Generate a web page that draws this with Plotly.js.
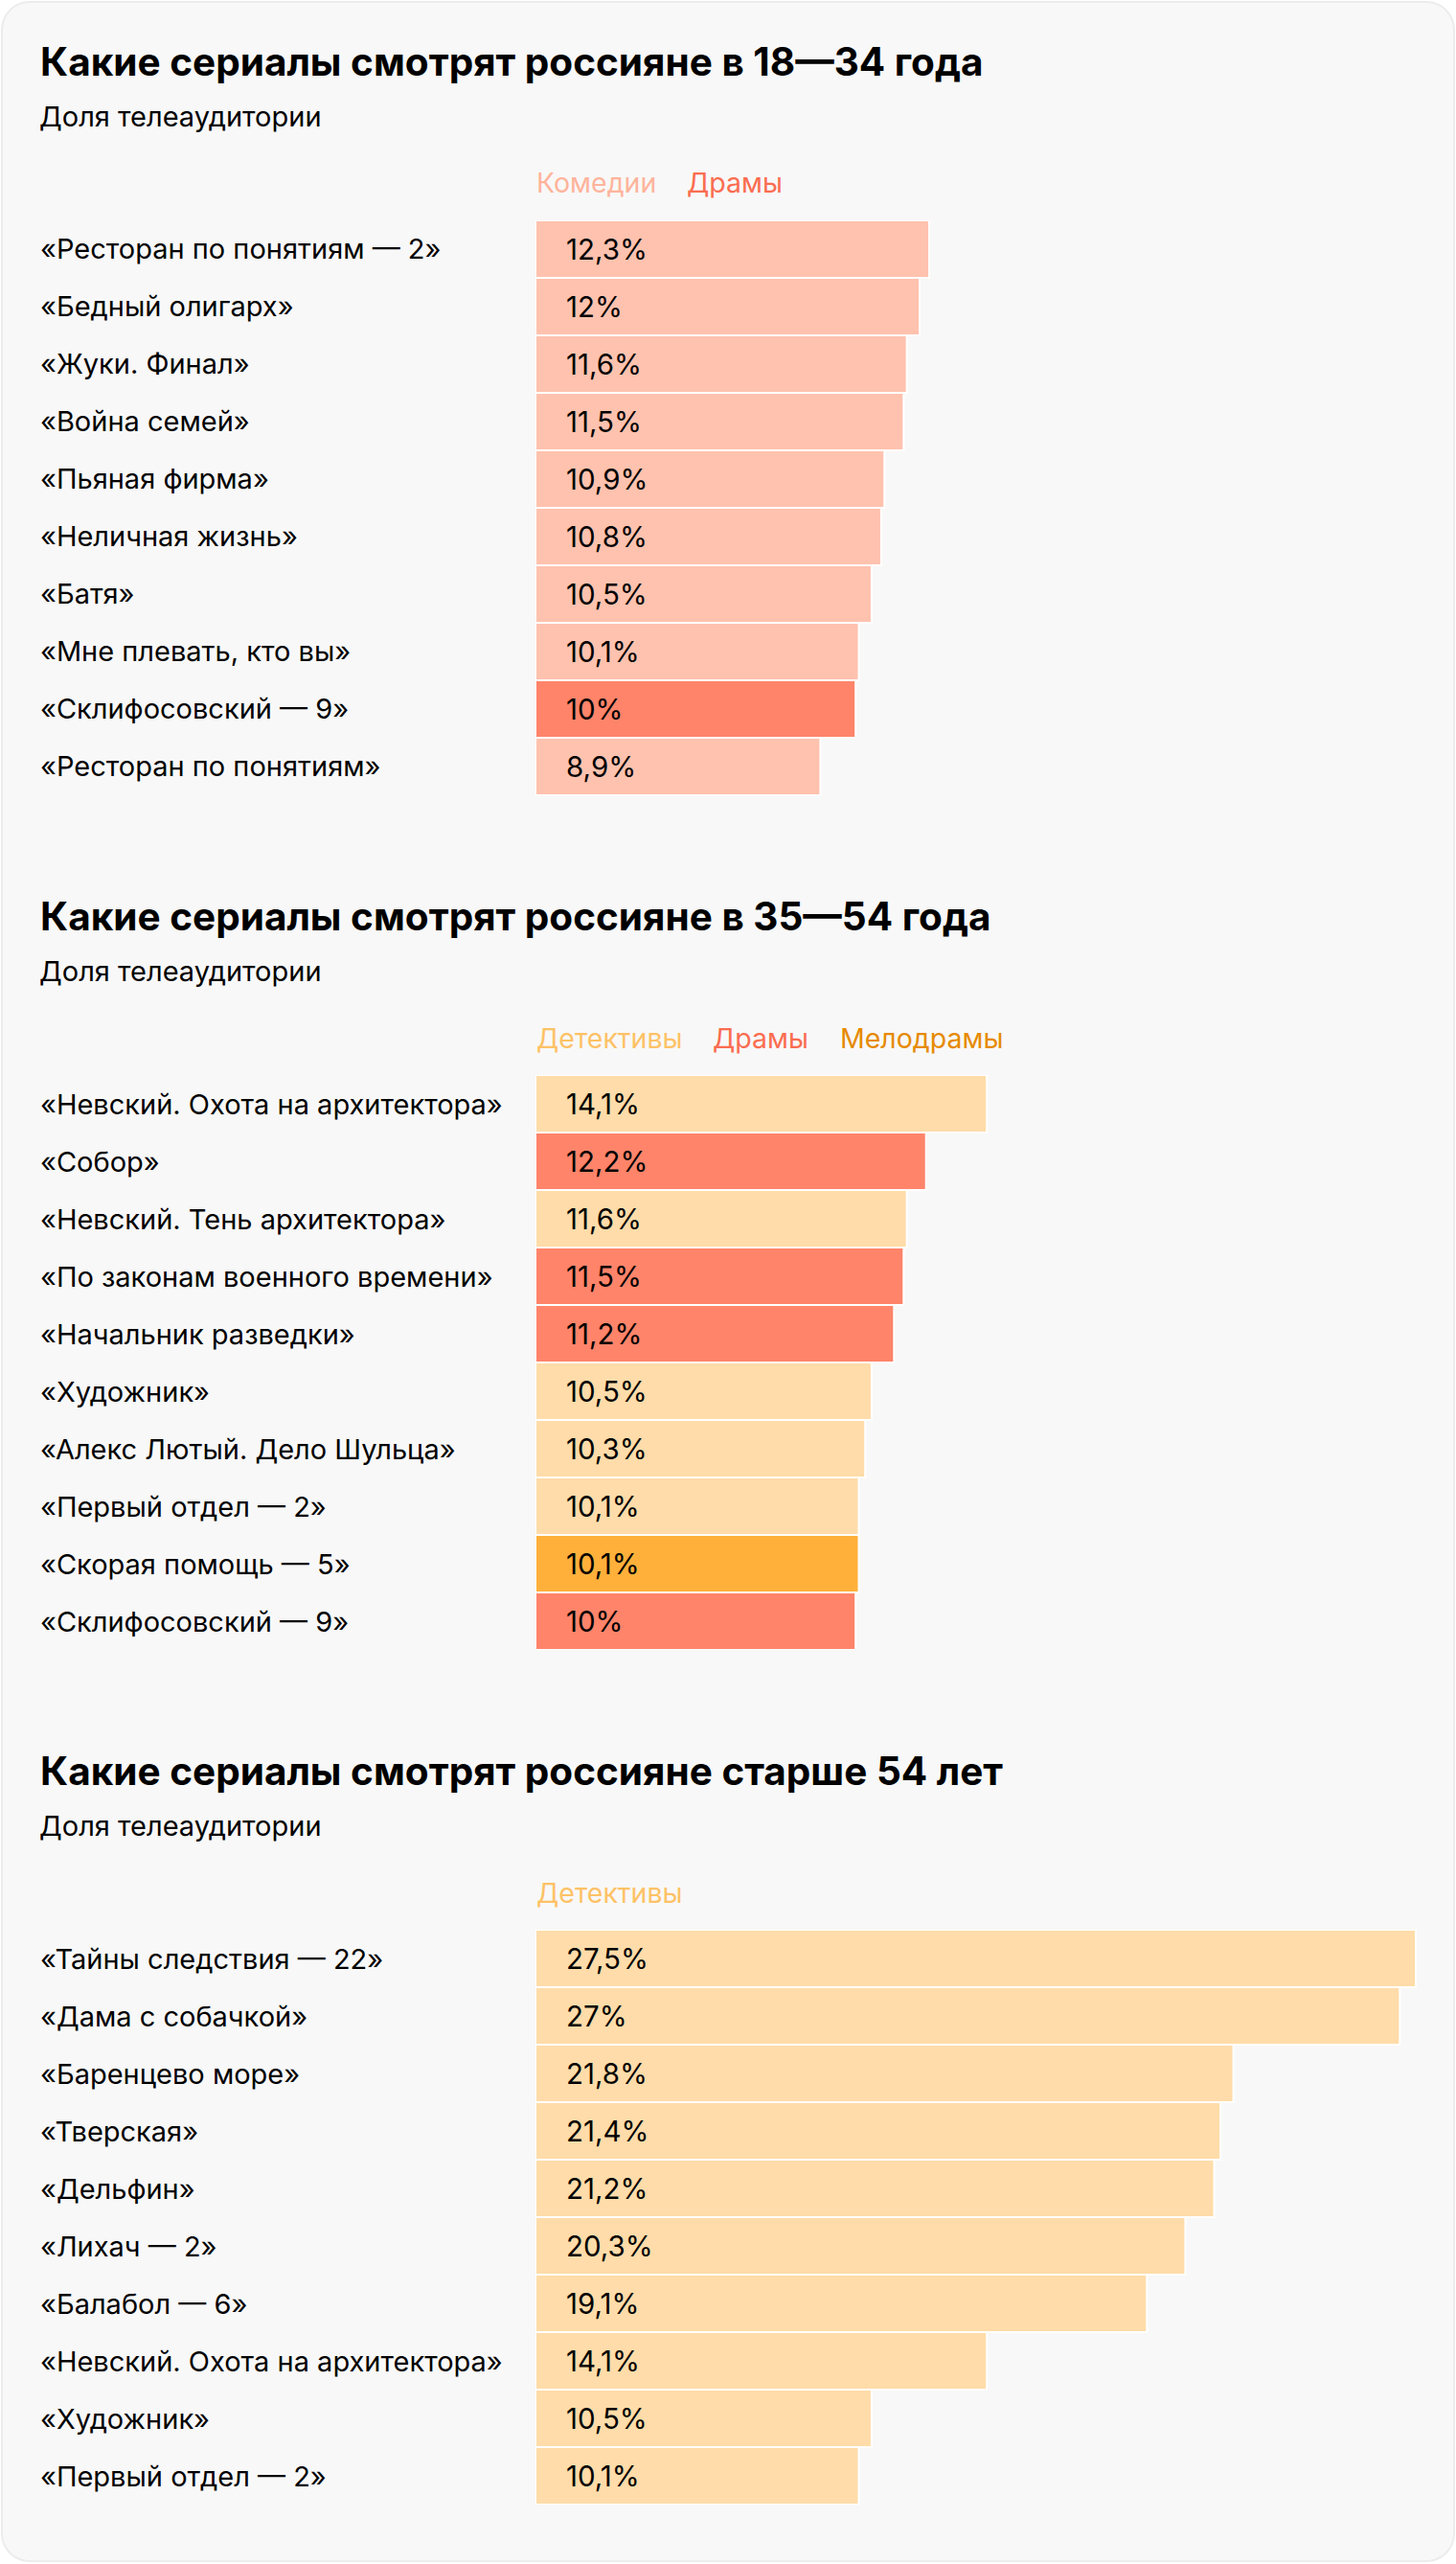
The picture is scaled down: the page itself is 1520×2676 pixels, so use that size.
<!DOCTYPE html>
<html>
<head>
<meta charset="utf-8">
<script src="https://cdn.plot.ly/plotly-3.0.1.min.js"></script>
<style>
  html, body { margin: 0; padding: 0; background: #ffffff; }
  #wrap { position: relative; width: 1520px; height: 2676px; }
  #card { position: absolute; left: 1px; top: 1px; right: 1px; bottom: 2px;
          background: #f8f8f8; border: 2px solid #ececec; border-radius: 30px; box-sizing: border-box; }
  #chart { position: absolute; left: 0; top: 0; width: 1520px; height: 2676px; }
</style>
</head>
<body>
<div id="wrap"><div id="card"></div><div id="chart"></div></div>
<script>
// ---------- DATA ----------
const chartTitles = [
  'Какие сериалы смотрят россияне в 18—34 года',
  'Какие сериалы смотрят россияне в 35—54 года',
  'Какие сериалы смотрят россияне старше 54 лет'
];
const subtitle = 'Доля телеаудитории';

const shows1 = ['«Ресторан по понятиям — 2»', '«Бедный олигарх»', '«Жуки. Финал»', '«Война семей»',
  '«Пьяная фирма»', '«Неличная жизнь»', '«Батя»', '«Мне плевать, кто вы»', '«Склифосовский — 9»',
  '«Ресторан по понятиям»'];
const values1 = [12.3, 12, 11.6, 11.5, 10.9, 10.8, 10.5, 10.1, 10, 8.9];
const genres1 = ['Комедии', 'Комедии', 'Комедии', 'Комедии', 'Комедии', 'Комедии', 'Комедии',
  'Комедии', 'Драмы', 'Комедии'];
const legend1 = ['Комедии', 'Драмы'];

const shows2 = ['«Невский. Охота на архитектора»', '«Собор»', '«Невский. Тень архитектора»',
  '«По законам военного времени»', '«Начальник разведки»', '«Художник»', '«Алекс Лютый. Дело Шульца»',
  '«Первый отдел — 2»', '«Скорая помощь — 5»', '«Склифосовский — 9»'];
const values2 = [14.1, 12.2, 11.6, 11.5, 11.2, 10.5, 10.3, 10.1, 10.1, 10];
const genres2 = ['Детективы', 'Драмы', 'Детективы', 'Драмы', 'Драмы', 'Детективы', 'Детективы',
  'Детективы', 'Мелодрамы', 'Драмы'];
const legend2 = ['Детективы', 'Драмы', 'Мелодрамы'];

const shows3 = ['«Тайны следствия — 22»', '«Дама с собачкой»', '«Баренцево море»', '«Тверская»',
  '«Дельфин»', '«Лихач — 2»', '«Балабол — 6»', '«Невский. Охота на архитектора»', '«Художник»',
  '«Первый отдел — 2»'];
const values3 = [27.5, 27, 21.8, 21.4, 21.2, 20.3, 19.1, 14.1, 10.5, 10.1];
const genres3 = ['Детективы', 'Детективы', 'Детективы', 'Детективы', 'Детективы', 'Детективы',
  'Детективы', 'Детективы', 'Детективы', 'Детективы'];
const legend3 = ['Детективы'];

// ---------- STYLE ----------
const barColor = { 'Комедии': '#ffc2ae', 'Драмы': '#ff846a', 'Детективы': '#ffdca9', 'Мелодрамы': '#ffb03b' };
const legendColor = { 'Комедии': '#ffb49c', 'Драмы': '#fb6d50', 'Детективы': '#fec266', 'Мелодрамы': '#e68a00' };

const W = 1520, H = 2676;
const FONT = 'Inter, Roboto, "Noto Sans", sans-serif';
const TXT = 29;
const blockH = 892;
const barsTop = 230;
const rowH = 60;
const xStartPx = 559, pxPerUnit = 33.42;
const xDomEndPx = 1519;
const xMax = (xDomEndPx - xStartPx) / pxPerUnit;

const charts = [
  { shows: shows1, values: values1, genres: genres1, legend: legend1 },
  { shows: shows2, values: values2, genres: genres2, legend: legend2 },
  { shows: shows3, values: values3, genres: genres3, legend: legend3 }
];

const py = px => 1 - px / H;
const px2x = px => px / W;

const ctx = document.createElement('canvas').getContext('2d');
function textW(t, size, weight) {
  ctx.font = (weight || 'normal') + ' ' + size + 'px Inter';
  return ctx.measureText(t).width;
}

const data = [];
const layout = {
  width: W, height: H,
  margin: { l: 0, r: 0, t: 0, b: 0 },
  paper_bgcolor: 'rgba(0,0,0,0)', plot_bgcolor: 'rgba(0,0,0,0)',
  showlegend: false, bargap: 0,
  font: { family: FONT, color: '#000' },
  annotations: []
};

charts.forEach((c, i) => {
  const k = i + 1;
  const off = i * blockH;
  const xa = 'x' + (k === 1 ? '' : k), ya = 'y' + (k === 1 ? '' : k);
  const xname = 'xaxis' + (k === 1 ? '' : k), yname = 'yaxis' + (k === 1 ? '' : k);
  const top = barsTop + off, bottom = top + rowH * c.shows.length;

  data.push({
    type: 'bar', orientation: 'h', x: c.values, y: c.shows, xaxis: xa, yaxis: ya,
    marker: { color: c.genres.map(g => barColor[g]), line: { color: '#ffffff', width: 2 } },
    hoverinfo: 'skip'
  });

  layout[xname] = { domain: [px2x(xStartPx), px2x(xDomEndPx)], range: [0, xMax], anchor: ya,
    showgrid: false, zeroline: false, showticklabels: false, showline: false, fixedrange: true };
  layout[yname] = { domain: [py(bottom), py(top)], type: 'category', autorange: 'reversed', anchor: xa,
    showgrid: false, zeroline: false, showticklabels: false, showline: false, fixedrange: true };

  layout.annotations.push({ xref: 'paper', yref: 'paper', x: px2x(41), y: py(64 + off),
    xanchor: 'left', yanchor: 'middle', showarrow: false, borderpad: 0, text: '<b>' + chartTitles[i] + '</b>',
    font: { size: 40.5, color: '#000', family: FONT } });
  layout.annotations.push({ xref: 'paper', yref: 'paper', x: px2x(40), y: py(121 + off),
    xanchor: 'left', yanchor: 'middle', showarrow: false, borderpad: 0, text: subtitle,
    font: { size: TXT, color: '#000', family: FONT } });

  let lx = xStartPx;
  c.legend.forEach(g => {
    layout.annotations.push({ xref: 'paper', yref: 'paper', x: px2x(lx), y: py(191 + off),
      xanchor: 'left', yanchor: 'middle', showarrow: false, borderpad: 0, text: g,
      font: { size: 28.5, color: legendColor[g], family: FONT } });
    lx += textW(g, 28.5) + 32;
  });

  c.shows.forEach((s, j) => {
    layout.annotations.push({ xref: 'paper', yref: ya, x: px2x(41), y: s,
      xanchor: 'left', yanchor: 'middle', showarrow: false, borderpad: 0, text: s,
      font: { size: TXT, color: '#000', family: FONT } });
    layout.annotations.push({ xref: xa, yref: ya, x: 0, xshift: 31, y: s,
      xanchor: 'left', yanchor: 'middle', showarrow: false, borderpad: 0,
      text: String(c.values[j]).replace('.', ',') + '%',
      font: { size: 29.5, color: '#000', family: FONT } });
  });
});

Plotly.newPlot('chart', data, layout, { displayModeBar: false, staticPlot: true });
</script>
</body>
</html>
